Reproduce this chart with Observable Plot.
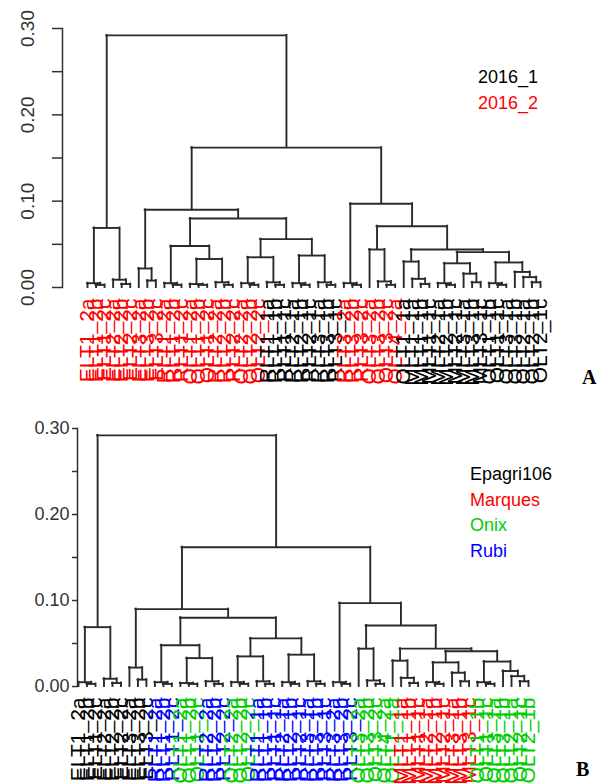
<!DOCTYPE html>
<html><head><meta charset="utf-8">
<script src="https://cdn.jsdelivr.net/npm/d3@7"></script>
<script src="https://cdn.jsdelivr.net/npm/@observablehq/plot@0.6"></script>
<style>
body{margin:0;background:#fff;font-family:"Liberation Sans",Arial,sans-serif;}
.panel{position:relative;width:597px;height:392px;overflow:hidden;}
.panel svg{position:absolute;left:0;top:0;overflow:visible;}
.leg{position:absolute;font-size:18px;line-height:26px;}
.tag{position:absolute;font-family:"Liberation Serif","Times New Roman",serif;font-weight:bold;font-size:20px;}
</style></head><body>
<div id="A" class="panel"></div>
<div id="B" class="panel"></div>
<script>
// ---- data: dendrogram as [height, left, right]; leaves are leaf-order indices ----
const yTicks = [0, 0.05, 0.10, 0.15, 0.20, 0.25, 0.30];
const yLabels = [0, 0.10, 0.20, 0.30];

const L1 = [0.005, 0, [0.003, 1, 2]];
const L2 = [0.009, 3, [0.004, 4, 5]];
const L = [0.069, L1, L2];

const RL1 = [0.022, 6, [0.008, 7, 8]];
const T9 = [0.005, 9, [0.003, 10, 11]];
const T12 = [0.004, 12, [0.003, 13, 14]];
const T15 = [0.006, 15, [0.003, 16, 17]];
const RL2a = [0.048, T9, [0.033, T12, T15]];
const T18 = [0.005, 18, [0.003, 19, 20]];
const T21 = [0.006, 21, [0.003, 22, 23]];
const T24 = [0.005, 24, [0.003, 25, 26]];
const T27 = [0.006, 27, [0.003, 28, 29]];
const RL2b = [0.056, [0.035, T18, T21], [0.037, T24, T27]];
const RL = [0.090, RL1, [0.080, RL2a, RL2b]];

const RR1 = [0.005, 30, [0.003, 31, 32]];
const RR2a = [0.044, 33, [0.007, 34, [0.003, 35, 36]]];
const N410 = [0.030, 37, [0.010, 38, [0.004, 39, 40]]];
const N455 = [0.028, [0.005, 41, [0.003, 42, 43]], [0.016, 44, [0.006, 45, 46]]];
const N508 = [0.029, [0.005, 47, [0.003, 48, 49]], [0.018, 50, [0.012, 51, [0.006, 52, 53]]]];
const RR2b = [0.044, N410, [0.041, N455, N508]];
const RR = [0.097, RR1, [0.071, RR2a, RR2b]];

const tree = [0.292, L, [0.162, RL, RR]];

const labelsA = [
 "ELT1_2a","ELT1_2b","ELT1_2c","ELT2_2a","ELT2_2b","ELT2_2c","ELT3_2a","ELT3_2b","ELT3_2c",
 "RLT1_2a","RLT1_2b","RLT1_2c","OLT1_2a","OLT1_2b","OLT1_2c","RLT2_2a","RLT2_2b","RLT2_2c",
 "OLT2_2a","OLT2_2b","OLT2_2c","RLT1_1a","RLT1_1b","RLT1_1c","RLT2_1a","RLT2_1b","RLT2_1c",
 "RLT3_1a","RLT3_1b","RLT3_1c","RLT3_2a","RLT3_2b","RLT3_2c","OLT3_2a","OLT3_2b","OLT3_2c",
 "OLT4_2a","OLT1_1a","MLT1_1a","MLT1_1b","MLT1_1c","MLT2_1a","MLT2_1b","MLT2_1c","MLT3_1a",
 "MLT3_1b","MLT3_1c","OLT1_1b","OLT1_1c","OLT3_1a","OLT3_1b","OLT2_1a","OLT2_1b","OLT2_1c"];
const labelsB = [
 "ELT1_2a","ELT1_2b","ELT1_2c","ELT2_2a","ELT2_2b","ELT2_2c","ELT3_2a","ELT3_2b","ELT3_2c",
 "RLT1_2a","RLT1_2b","RLT1_2c","OLT1_2a","OLT1_2b","OLT1_2c","RLT2_2a","RLT2_2b","RLT2_2c",
 "OLT2_2a","OLT2_2b","OLT2_2c","RLT1_1a","RLT1_1b","RLT1_1c","RLT2_1a","RLT2_1b","RLT2_1c",
 "RLT3_1a","RLT3_1b","RLT3_1c","RLT3_2a","RLT3_2b","RLT3_2c","OLT3_2a","OLT3_2b","OLT3_2c",
 "OLT4_2a","OLT1_1a","MLT1_1a","MLT1_1b","MLT1_1c","MLT2_1a","MLT2_1b","MLT2_1c","MLT3_1a",
 "MLT3_1b","MLT3_1c","OLT1_1b","OLT1_1c","OLT3_1a","OLT3_1b","OLT2_1a","OLT2_1c","OLT2_1b"];

const legendA = ["2016_1", "2016_2"];
const colorsA = ["#000000", "#ff0000"];
const legendB = ["Epagri106", "Marques", "Onix", "Rubi"];
const legendBcodes = ["E", "M", "O", "R"];
const colorsB = ["#000000", "#ff0000", "#00cd00", "#0000ff"];

// ---- layout ----
function segments(node) {
  const H = [], V = [];
  (function walk(n) {
    if (typeof n === "number") return {x: n, h: 0};
    const [h, a, b] = n;
    const A = walk(a), B = walk(b);
    H.push({x1: A.x, x2: B.x, y: h});
    V.push({x: A.x, y1: A.h, y2: h});
    V.push({x: B.x, y1: B.h, y2: h});
    return {x: (A.x + B.x) / 2, h};
  })(node);
  return {H, V};
}

function draw(id, o) {
  const {H, V} = segments(tree);
  const leaves = o.labels.map((t, i) => ({i, t, g: o.groupOf(t)}));
  const line = {stroke: "#2a2a2a", strokeWidth: 1.9, strokeLinecap: "square"};
  const chart = Plot.plot({
    width: 597, height: 392,
    marginTop: o.marginTop, marginBottom: o.marginBottom, marginLeft: o.marginLeft, marginRight: 0,
    x: {domain: [0, o.labels.length - 1], range: o.xRange, axis: null},
    y: {domain: [0, 0.3], label: null},
    color: {domain: o.domain, range: o.range},
    style: {fontFamily: "Liberation Sans, Arial, sans-serif", background: "transparent", overflow: "visible"},
    marks: [
      Plot.axisY({ticks: yTicks, tickSize: o.tickSize, tickFormat: () => "", label: null, stroke: "#333", strokeWidth: 1.5}),
      Plot.frame({anchor: "left", stroke: "#333", strokeWidth: 1.5}),
      Plot.ruleY(H, {y: "y", x1: "x1", x2: "x2", ...line}),
      Plot.ruleX(V, {x: "x", y1: "y1", y2: "y2", ...line}),
      Plot.text(leaves, {x: "i", y: () => 0, text: "t", fill: "g", rotate: -90, textAnchor: "end",
        lineAnchor: "middle", dy: 11, fontSize: 21}),
      o.rotTicks
        ? Plot.text(yLabels, {y: d => d, text: d => d.toFixed(2), frameAnchor: "left", dx: -35, rotate: -90,
            textAnchor: "middle", lineAnchor: "middle", fontSize: 19, fill: "#333"})
        : Plot.text(yLabels, {y: d => d, text: d => d.toFixed(2), frameAnchor: "left", dx: -8,
            textAnchor: "end", lineAnchor: "middle", fontSize: 18, fill: "#333"})
    ]
  });
  document.getElementById(id).appendChild(chart);
}

draw("A", {labels: labelsA, groupOf: t => "2016_" + t[5], domain: legendA, range: colorsA,
  marginTop: 28, marginBottom: 105, marginLeft: 62, xRange: [87, 540], rotTicks: true, tickSize: 10});
draw("B", {labels: labelsB, groupOf: t => legendB[legendBcodes.indexOf(t[0])], domain: legendB, range: colorsB,
  marginTop: 36, marginBottom: 98, marginLeft: 77, xRange: [78, 528], rotTicks: false, tickSize: 5});

// legends and panel tags
function legend(id, names, cols, left, top) {
  names.forEach((n, k) => {
    const d = document.createElement("div");
    d.className = "leg"; d.textContent = n; d.style.color = cols[k];
    d.style.left = left + "px"; d.style.top = (top + k * 25.5) + "px";
    document.getElementById(id).appendChild(d);
  });
}
legend("A", legendA, colorsA, 478, 64);
legend("B", legendB, colorsB, 470, 69);
function tag(id, t, left, top) {
  const d = document.createElement("div");
  d.className = "tag"; d.textContent = t; d.style.left = left + "px"; d.style.top = top + "px";
  document.getElementById(id).appendChild(d);
}
tag("A", "A", 582, 366);
tag("B", "B", 576, 366);
</script>
</body></html>
